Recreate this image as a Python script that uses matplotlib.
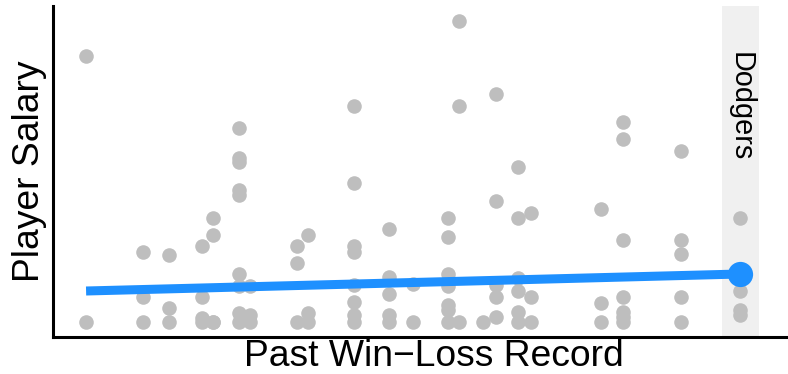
import numpy as np
import matplotlib.pyplot as plt

plt.rcParams['font.family'] = ['Liberation Sans', 'DejaVu Sans']

# win fraction of each team column and the salaries (millions) seen in it
records = [0.318, 0.349, 0.363, 0.381, 0.387, 0.401, 0.407, 0.433, 0.439, 0.464, 0.483,
           0.496, 0.515, 0.521, 0.534, 0.541, 0.553, 0.560, 0.598, 0.610, 0.642]
salaries = [
    [28.1, 1.5],
    [8.5, 4.0, 1.5],
    [8.2, 2.9, 1.5],
    [9.1, 4.0, 1.9, 1.5],
    [11.9, 10.2, 1.5, 1.5],
    [20.9, 17.9, 17.5, 14.7, 14.2, 6.3, 5.1, 2.4, 1.5],
    [5.1, 2.2, 1.5],
    [9.1, 7.4, 1.5],
    [10.2, 2.4, 1.5],
    [23.1, 15.4, 9.1, 8.5, 5.2, 3.5, 2.2, 1.5],
    [10.8, 6.0, 4.3, 2.2, 1.5],
    [5.3, 1.5],
    [11.9, 10.0, 6.3, 5.1, 3.2, 2.7, 1.5],
    [31.6, 23.1, 1.5],
    [1.5],
    [24.3, 13.6, 5.2, 4.0, 2.0],
    [17.0, 11.9, 5.9, 4.6, 2.5, 1.5],
    [12.4, 4.0, 1.5],
    [12.8, 3.4, 1.5],
    [21.5, 19.8, 9.7, 4.0, 2.5, 2.0, 1.5],
    [18.6, 9.7, 8.3, 4.0, 1.5],
]
dodgers_record = 0.674
dodgers_salaries = [11.9, 4.6, 2.7, 2.2]

# trend line
trend_x = [0.318, 0.674]
trend_y = [4.6, 6.3]

xs = np.concatenate([[r] * len(s) for r, s in zip(records, salaries)] + [[dodgers_record] * len(dodgers_salaries)])
ys = np.concatenate([np.array(s) for s in salaries] + [np.array(dodgers_salaries)])

fig = plt.figure(figsize=(7.88, 3.74), dpi=100)
ax = fig.add_axes([53 / 788, 37 / 374, 1 - 53 / 788, 331 / 374])

ax.axvspan(0.664, 0.684, color='#f0f0f0', zorder=0, lw=0)
ax.text(dodgers_record, 23.0, 'Dodgers', rotation=270, ha='center', va='center', fontsize=20.8)

ax.scatter(xs, ys, s=110, color='#bebebe', linewidths=0, zorder=2)
ax.plot(trend_x, trend_y, color='#1E90FF', lw=6.5, solid_capstyle='butt', zorder=3)
ax.scatter([trend_x[-1]], [trend_y[-1]], s=330, color='#1E90FF', linewidths=0, zorder=4)

ax.set_xlim(0.3, 0.7)
ax.set_ylim(0, 33.1)
ax.set_xticks([])
ax.set_yticks([])
for side in ['top', 'right']:
    ax.spines[side].set_visible(False)
for side in ['left', 'bottom']:
    ax.spines[side].set_linewidth(2.2)

fig.text(434 / 788, 0.5 / 374, 'Past Win\u2212Loss Record', fontsize=26.8,
         ha='center', va='bottom')
ax.set_ylabel('Player Salary', fontsize=26.8)

fig.savefig('out.png', dpi=100)
